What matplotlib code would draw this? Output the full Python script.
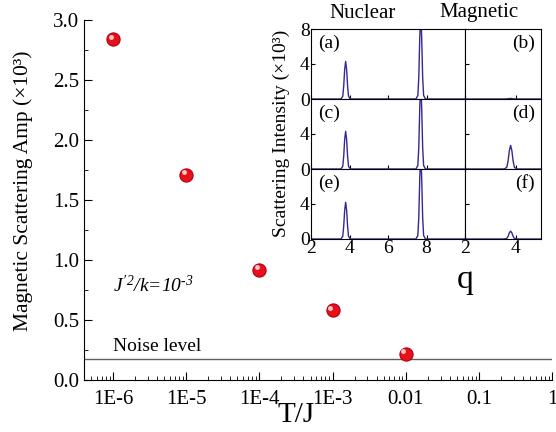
import matplotlib
matplotlib.use("Agg")
import matplotlib.pyplot as plt
import matplotlib.transforms as mtransforms
from matplotlib.ticker import MultipleLocator, FixedLocator, NullFormatter, LogLocator

plt.rcParams['font.family'] = ['Liberation Serif', 'DejaVu Serif']
plt.rcParams['mathtext.fontset'] = 'custom'
plt.rcParams['mathtext.rm'] = 'Liberation Serif:italic'
plt.rcParams['mathtext.it'] = 'Liberation Serif:italic'

# ---- main data ----
temps = [1e-6, 1e-5, 1e-4, 1e-3, 1e-2]
amps = [2.84, 1.71, 0.92, 0.58, 0.22]
noise_level = 0.175
xtick_vals = [1e-6, 1e-5, 1e-4, 1e-3, 1e-2, 1e-1, 1]
xtick_labels = ['1E-6', '1E-5', '1E-4', '1E-3', '0.01', '0.1', '1']

# ---- inset data (sampled curves) ----
q_nuc = [2.0, 3.55, 3.65, 3.70, 3.75, 3.80, 3.85, 3.90, 3.95, 4.05,
         7.45, 7.55, 7.60, 7.65, 7.70, 7.75, 7.80, 7.85, 7.95, 10.0]
I_a = [0, 0, 0.3, 1.5, 3.4, 4.3, 3.4, 1.5, 0.3, 0,
       0, 0.4, 2.5, 7.0, 10.0, 7.0, 2.5, 0.4, 0, 0]
I_c = [0, 0, 0.3, 1.5, 3.4, 4.3, 3.4, 1.5, 0.3, 0,
       0, 0.4, 2.5, 7.0, 10.0, 7.0, 2.5, 0.4, 0, 0]
I_e = [0, 0, 0.3, 1.5, 3.3, 4.2, 3.3, 1.5, 0.3, 0,
       0, 0.4, 2.5, 7.0, 10.0, 7.0, 2.5, 0.4, 0, 0]
q_mag = [2.0, 3.55, 3.65, 3.70, 3.75, 3.80, 3.85, 3.90, 3.95, 4.05, 5.0]
I_b = [0, 0, 0.01, 0.03, 0.05, 0.06, 0.05, 0.03, 0.01, 0, 0]
I_d = [0, 0, 0.2, 0.9, 2.1, 2.7, 2.1, 0.9, 0.2, 0, 0]
I_f = [0, 0, 0.07, 0.3, 0.7, 0.9, 0.7, 0.3, 0.07, 0, 0]
panel_labels = ['(a)', '(b)', '(c)', '(d)', '(e)', '(f)']

W, H = 556, 432
fig = plt.figure(figsize=(W / 100, H / 100), dpi=100)

def fx(px):
    return px / W

def fy(py):
    return 1 - py / H

ax = fig.add_axes([fx(84), fy(380), fx(552) - fx(84), fy(20) - fy(380)])
ax.set_xscale('log')
ax.set_xlim(4e-7, 1)
ax.set_ylim(0, 3.0)
ax.spines['top'].set_visible(False)
ax.spines['right'].set_visible(False)
ax.axhline(noise_level, color='#606060', lw=1.0)
ax.text(1.0e-6, noise_level + 0.035, 'Noise level', fontsize=14, va='bottom')

ax.plot(temps, amps, 'o', ms=9.5, mfc='#e8101c', mec='#b00010', mew=0.8, zorder=3)
hl = mtransforms.offset_copy(ax.transData, fig=fig, x=-1.8, y=1.8, units='points')
ax.plot(temps, amps, 'o', ms=3.5, mfc='#ffc8c8', mec='none', transform=hl, zorder=4)

ax.xaxis.set_major_locator(FixedLocator(xtick_vals))
ax.set_xticklabels(xtick_labels)
ax.xaxis.set_minor_locator(LogLocator(base=10, subs=range(2, 10), numticks=20))
ax.xaxis.set_minor_formatter(NullFormatter())
ax.set_yticks([0, 0.5, 1.0, 1.5, 2.0, 2.5, 3.0])
ax.set_yticklabels(['0.0', '0.5', '1.0', '1.5', '2.0', '2.5', '3.0'])
ax.yaxis.set_minor_locator(MultipleLocator(0.25))
ax.tick_params(which='both', direction='in', labelsize=15, top=False, right=False)
ax.tick_params(axis='x', which='major', pad=7)
ax.tick_params(which='major', length=6)
ax.tick_params(which='minor', length=3)
ax.text(1.0e-6, 0.79, r"$J'^2/k$=10$^{\text{-}3}$", fontsize=14, style='italic', va='center')

fig.text(fx(296), fy(415), 'T/J', fontsize=21, ha='center', va='center')
fig.text(fx(23), fy(191), 'Magnetic Scattering Amp (×10³)', fontsize=15.5,
         rotation=90, ha='center', va='center')

# ---- inset ----
lc = '#3b2590'
cols = [(311, 465, (2, 10)), (465, 541, (2, 5))]
rows = [(29, 99), (99, 169), (169, 239)]
series = [[(q_nuc, I_a), (q_mag, I_b)],
          [(q_nuc, I_c), (q_mag, I_d)],
          [(q_nuc, I_e), (q_mag, I_f)]]
k = 0
for r, (top, bot) in enumerate(rows):
    for c, (x0, x1, xl) in enumerate(cols):
        a = fig.add_axes([fx(x0), fy(bot), fx(x1) - fx(x0), fy(top) - fy(bot)])
        qq, ii = series[r][c]
        a.plot(qq, ii, color=lc, lw=1.0)
        a.set_xlim(*xl)
        a.set_ylim(0, 8)
        a.tick_params(direction='in', labelsize=14, length=3, pad=1)
        if c == 0:
            a.set_xticks([2, 4, 6, 8])
            if r == 0:
                a.set_yticks([0, 4, 8])
            else:
                a.set_yticks([0, 4])
        else:
            a.set_xticks([2, 4])
            a.set_yticks([0, 4])
            a.set_yticklabels([])
        if r < 2:
            a.set_xticklabels([])
        a.text(0.045 if c == 0 else 0.92, 0.80, panel_labels[k], transform=a.transAxes,
               fontsize=14, ha='left' if c == 0 else 'right', va='center')
        k += 1

fig.text(fx(363), fy(13), 'Nuclear', fontsize=15, ha='center', va='center')
fig.text(fx(479), fy(13), 'Magnetic', fontsize=15, ha='center', va='center')
fig.text(fx(465), fy(280), 'q', fontsize=24, ha='center', va='center')
fig.text(fx(281), fy(133), 'Scattering Intensity (×10³)', fontsize=14,
         rotation=90, ha='center', va='center')

fig.savefig('out.png', dpi=100)
